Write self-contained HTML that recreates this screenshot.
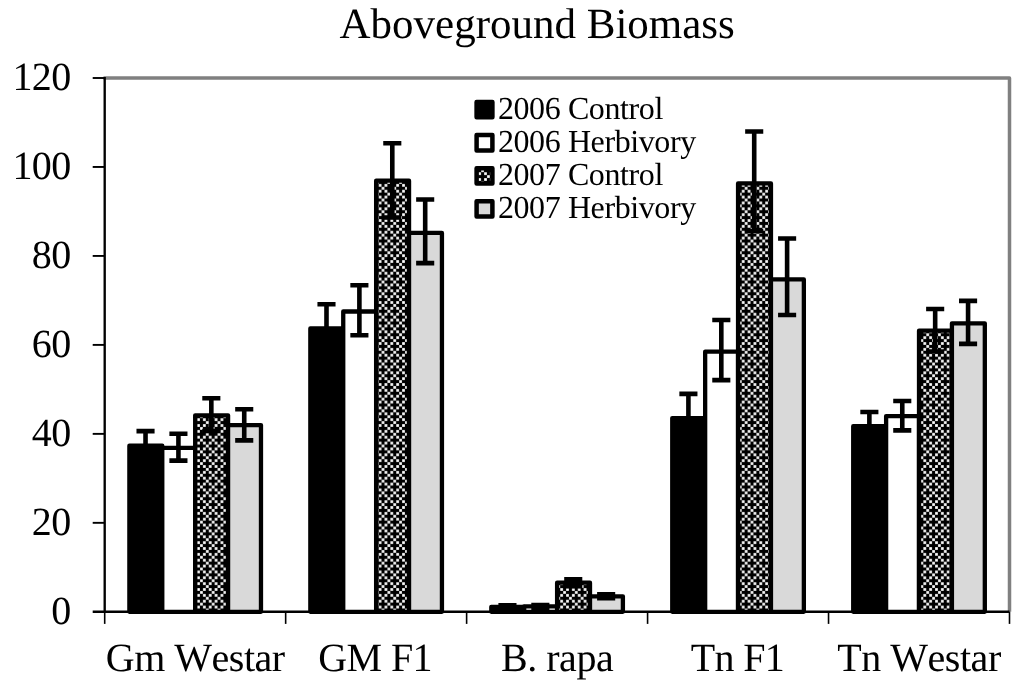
<!DOCTYPE html>
<html><head><meta charset="utf-8"><title>Aboveground Biomass</title>
<style>
html,body{margin:0;padding:0;background:#fff;}
body{width:1024px;height:681px;overflow:hidden;font-family:"Liberation Serif",serif;}
svg{display:block;will-change:transform;transform:translateZ(0)}
text{font-family:"Liberation Serif",serif;fill:#000;font-kerning:none;text-rendering:geometricPrecision;}
</style></head><body>
<svg width="1024" height="681" viewBox="0 0 1024 681">
<defs>
<pattern id="p90" patternUnits="userSpaceOnUse" x="-2.1" y="-0.6" width="11.714" height="11.714">
<rect x="0" y="0" width="12" height="12" fill="#000"/>

<rect x="0.12" y="3.05" width="2.70" height="2.70" fill="#fff"/>
<rect x="5.98" y="3.05" width="2.70" height="2.70" fill="#fff"/>
<rect x="0.12" y="8.91" width="2.70" height="2.70" fill="#fff"/>
<rect x="5.98" y="8.91" width="2.70" height="2.70" fill="#fff"/>
<rect x="3.05" y="5.98" width="2.70" height="2.70" fill="#fff"/>
<rect x="8.91" y="0.12" width="2.70" height="2.70" fill="#fff"/>
</pattern>
</defs>
<rect x="0" y="0" width="1024" height="681" fill="#fff"/>
<path d="M103.5 78.0 H1009.5 V611.8" fill="none" stroke="#808080" stroke-width="3.5" stroke-linejoin="round"/>
<rect x="129.38" y="445.70" width="32.90" height="166.10" fill="#000" stroke="#000" stroke-width="4.3" stroke-linejoin="round"/>
<rect x="162.28" y="447.90" width="32.90" height="163.90" fill="#fff" stroke="#000" stroke-width="4.3" stroke-linejoin="round"/>
<rect x="195.18" y="415.35" width="32.90" height="196.45" fill="url(#p90)" stroke="#000" stroke-width="4.3" stroke-linejoin="round"/>
<rect x="228.08" y="425.10" width="32.90" height="186.70" fill="#d9d9d9" stroke="#000" stroke-width="4.3" stroke-linejoin="round"/>
<rect x="310.34" y="328.45" width="32.90" height="283.35" fill="#000" stroke="#000" stroke-width="4.3" stroke-linejoin="round"/>
<rect x="343.24" y="311.50" width="32.90" height="300.30" fill="#fff" stroke="#000" stroke-width="4.3" stroke-linejoin="round"/>
<rect x="376.14" y="180.65" width="32.90" height="431.15" fill="url(#p90)" stroke="#000" stroke-width="4.3" stroke-linejoin="round"/>
<rect x="409.04" y="232.90" width="32.90" height="378.90" fill="#d9d9d9" stroke="#000" stroke-width="4.3" stroke-linejoin="round"/>
<rect x="491.30" y="606.80" width="32.90" height="5.00" fill="#000" stroke="#000" stroke-width="4.3" stroke-linejoin="round"/>
<rect x="524.20" y="606.30" width="32.90" height="5.50" fill="#fff" stroke="#000" stroke-width="4.3" stroke-linejoin="round"/>
<rect x="557.10" y="582.70" width="32.90" height="29.10" fill="url(#p90)" stroke="#000" stroke-width="4.3" stroke-linejoin="round"/>
<rect x="590.00" y="596.30" width="32.90" height="15.50" fill="#d9d9d9" stroke="#000" stroke-width="4.3" stroke-linejoin="round"/>
<rect x="672.26" y="418.05" width="32.90" height="193.75" fill="#000" stroke="#000" stroke-width="4.3" stroke-linejoin="round"/>
<rect x="705.16" y="351.70" width="32.90" height="260.10" fill="#fff" stroke="#000" stroke-width="4.3" stroke-linejoin="round"/>
<rect x="738.06" y="183.45" width="32.90" height="428.35" fill="url(#p90)" stroke="#000" stroke-width="4.3" stroke-linejoin="round"/>
<rect x="770.96" y="279.45" width="32.90" height="332.35" fill="#d9d9d9" stroke="#000" stroke-width="4.3" stroke-linejoin="round"/>
<rect x="853.22" y="426.15" width="32.90" height="185.65" fill="#000" stroke="#000" stroke-width="4.3" stroke-linejoin="round"/>
<rect x="886.12" y="416.10" width="32.90" height="195.70" fill="#fff" stroke="#000" stroke-width="4.3" stroke-linejoin="round"/>
<rect x="919.02" y="330.65" width="32.90" height="281.15" fill="url(#p90)" stroke="#000" stroke-width="4.3" stroke-linejoin="round"/>
<rect x="951.92" y="323.30" width="32.90" height="288.50" fill="#d9d9d9" stroke="#000" stroke-width="4.3" stroke-linejoin="round"/>
<path d="M104.7 77.0 V613.0" stroke="#000" stroke-width="2.35" fill="none"/>
<path d="M104.7 611.8 V623.9" stroke="#000" stroke-width="1.6" fill="none"/>
<path d="M92.7 611.8 H1009.5" stroke="#000" stroke-width="2.4" fill="none"/>
<path d="M92.7 522.83 H104.7" stroke="#000" stroke-width="1.9" fill="none"/>
<path d="M92.7 433.87 H104.7" stroke="#000" stroke-width="1.9" fill="none"/>
<path d="M92.7 344.90 H104.7" stroke="#000" stroke-width="1.9" fill="none"/>
<path d="M92.7 255.93 H104.7" stroke="#000" stroke-width="1.9" fill="none"/>
<path d="M92.7 166.97 H104.7" stroke="#000" stroke-width="1.9" fill="none"/>
<path d="M92.7 78.00 H104.7" stroke="#000" stroke-width="1.9" fill="none"/>
<path d="M285.66 611.8 V623.9" stroke="#000" stroke-width="1.6" fill="none"/>
<path d="M466.62 611.8 V623.9" stroke="#000" stroke-width="1.6" fill="none"/>
<path d="M647.58 611.8 V623.9" stroke="#000" stroke-width="1.6" fill="none"/>
<path d="M828.54 611.8 V623.9" stroke="#000" stroke-width="1.6" fill="none"/>
<path d="M1009.50 611.8 V623.9" stroke="#000" stroke-width="1.6" fill="none"/>
<path d="M145.53 431.15 V458.00 M136.48 431.15 H154.58 M136.48 458.00 H154.58" stroke="#000" stroke-width="4.6" fill="none"/>
<path d="M178.43 433.75 V460.60 M169.38 433.75 H187.48 M169.38 460.60 H187.48" stroke="#000" stroke-width="4.6" fill="none"/>
<path d="M211.33 398.30 V431.00 M202.28 398.30 H220.38 M202.28 431.00 H220.38" stroke="#000" stroke-width="4.6" fill="none"/>
<path d="M244.23 409.30 V440.40 M235.18 409.30 H253.28 M235.18 440.40 H253.28" stroke="#000" stroke-width="4.6" fill="none"/>
<path d="M326.49 304.30 V350.00 M317.44 304.30 H335.54 M317.44 350.00 H335.54" stroke="#000" stroke-width="4.6" fill="none"/>
<path d="M359.39 285.30 V335.20 M350.34 285.30 H368.44 M350.34 335.20 H368.44" stroke="#000" stroke-width="4.6" fill="none"/>
<path d="M392.29 143.20 V217.50 M383.24 143.20 H401.34 M383.24 217.50 H401.34" stroke="#000" stroke-width="4.6" fill="none"/>
<path d="M425.19 199.50 V263.10 M416.14 199.50 H434.24 M416.14 263.10 H434.24" stroke="#000" stroke-width="4.6" fill="none"/>
<path d="M507.45 605.30 V608.30 M498.40 605.30 H516.50 M498.40 608.30 H516.50" stroke="#000" stroke-width="4.6" fill="none"/>
<path d="M540.35 605.00 V607.60 M531.30 605.00 H549.40 M531.30 607.60 H549.40" stroke="#000" stroke-width="4.6" fill="none"/>
<path d="M573.25 579.20 V586.20 M564.20 579.20 H582.30 M564.20 586.20 H582.30" stroke="#000" stroke-width="4.6" fill="none"/>
<path d="M606.15 594.30 V598.30 M597.10 594.30 H615.20 M597.10 598.30 H615.20" stroke="#000" stroke-width="4.6" fill="none"/>
<path d="M688.41 393.90 V440.00 M679.36 393.90 H697.46 M679.36 440.00 H697.46" stroke="#000" stroke-width="4.6" fill="none"/>
<path d="M721.31 320.00 V380.10 M712.26 320.00 H730.36 M712.26 380.10 H730.36" stroke="#000" stroke-width="4.6" fill="none"/>
<path d="M754.21 131.50 V231.00 M745.16 131.50 H763.26 M745.16 231.00 H763.26" stroke="#000" stroke-width="4.6" fill="none"/>
<path d="M787.11 238.50 V315.00 M778.06 238.50 H796.16 M778.06 315.00 H796.16" stroke="#000" stroke-width="4.6" fill="none"/>
<path d="M869.37 412.00 V438.00 M860.32 412.00 H878.42 M860.32 438.00 H878.42" stroke="#000" stroke-width="4.6" fill="none"/>
<path d="M902.27 401.05 V430.40 M893.22 401.05 H911.32 M893.22 430.40 H911.32" stroke="#000" stroke-width="4.6" fill="none"/>
<path d="M935.17 309.00 V351.50 M926.12 309.00 H944.22 M926.12 351.50 H944.22" stroke="#000" stroke-width="4.6" fill="none"/>
<path d="M968.07 300.90 V343.90 M959.02 300.90 H977.12 M959.02 343.90 H977.12" stroke="#000" stroke-width="4.6" fill="none"/>
<text x="339.5" y="38.4" font-size="43">Aboveground Biomass</text>
<text x="70.6" y="623.9" font-size="40" letter-spacing="-0.6" text-anchor="end">0</text>
<text x="70.6" y="534.9" font-size="40" letter-spacing="-0.6" text-anchor="end">20</text>
<text x="70.6" y="446.0" font-size="40" letter-spacing="-0.6" text-anchor="end">40</text>
<text x="70.6" y="357.0" font-size="40" letter-spacing="-0.6" text-anchor="end">60</text>
<text x="70.6" y="268.0" font-size="40" letter-spacing="-0.6" text-anchor="end">80</text>
<text x="70.6" y="179.1" font-size="40" letter-spacing="-0.6" text-anchor="end">100</text>
<text x="70.6" y="90.1" font-size="40" letter-spacing="-0.6" text-anchor="end">120</text>
<text x="195.2" y="670.5" font-size="40" letter-spacing="-0.50" text-anchor="middle">Gm Westar</text>
<text x="375.1" y="670.5" font-size="40" letter-spacing="-0.60" text-anchor="middle">GM F1</text>
<text x="557.1" y="670.5" font-size="40" letter-spacing="-0.45" text-anchor="middle">B. rapa</text>
<text x="737.4" y="670.5" font-size="40" letter-spacing="-0.70" text-anchor="middle">Tn F1</text>
<text x="919.0" y="670.5" font-size="40" letter-spacing="-0.47" text-anchor="middle">Tn Westar</text>
<rect x="476.6" y="102.05" width="15.8" height="15.3" fill="#000" stroke="#000" stroke-width="4.5" stroke-linejoin="round"/>
<text x="497.9" y="119.3" font-size="32" letter-spacing="-0.4">2006 Control</text>
<rect x="476.6" y="135.10" width="15.8" height="15.3" fill="#fff" stroke="#000" stroke-width="4.5" stroke-linejoin="round"/>
<text x="497.9" y="152.3" font-size="32" letter-spacing="-0.4">2006 Herbivory</text>
<rect x="476.6" y="168.15" width="15.8" height="15.3" fill="url(#p90)" stroke="#000" stroke-width="4.5" stroke-linejoin="round"/>
<text x="497.9" y="185.3" font-size="32" letter-spacing="-0.4">2007 Control</text>
<rect x="476.6" y="201.20" width="15.8" height="15.3" fill="#d9d9d9" stroke="#000" stroke-width="4.5" stroke-linejoin="round"/>
<text x="497.9" y="218.3" font-size="32" letter-spacing="-0.4">2007 Herbivory</text>
</svg></body></html>
